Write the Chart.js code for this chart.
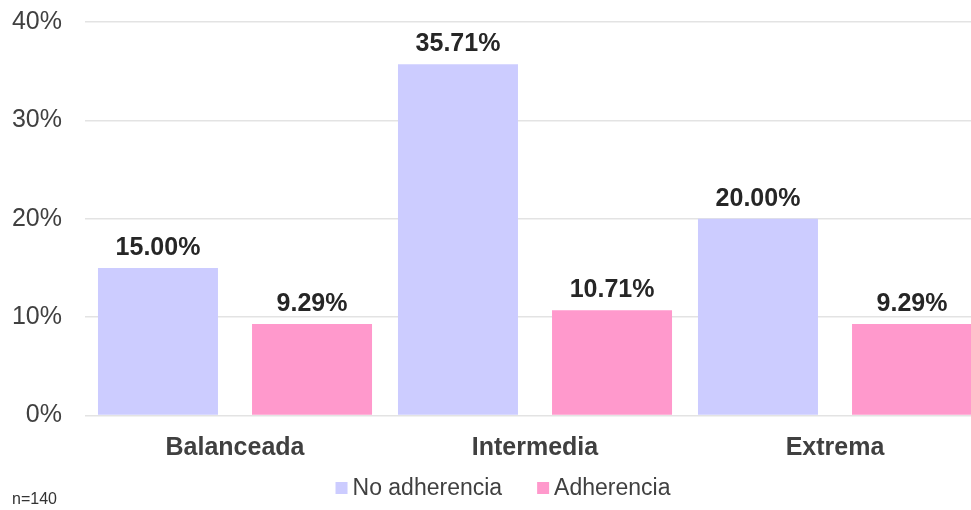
<!DOCTYPE html>
<html>
<head>
<meta charset="utf-8">
<script src="https://cdn.jsdelivr.net/npm/chart.js@4/dist/chart.umd.min.js"></script>
<style>
  html, body { margin: 0; padding: 0; background: #fff; overflow: hidden; }
  #wrap { width: 1000px; height: 510px; }
</style>
</head>
<body>
<div id="wrap"><canvas id="chart" width="1000" height="510"></canvas></div>
<script>
// chart data
const categories = ['Balanceada', 'Intermedia', 'Extrema'];
const seriesNames = ['No adherencia', 'Adherencia'];
const noAdherencia = [15.00, 35.71, 20.00];
const adherencia = [9.29, 10.71, 9.29];
const yTicks = [0, 10, 20, 30, 40];
const sampleNote = 'n=140';

const colors = ['#CCCCFF', '#FF99CC'];
const FONT = '"Liberation Sans", Arial, sans-serif';

// value labels above each bar
const valueLabels = {
    id: 'valueLabels',
    afterDatasetsDraw(chart) {
        const ctx = chart.ctx;
        ctx.save();
        ctx.font = 'bold 25px ' + FONT;
        ctx.fillStyle = '#262626';
        ctx.textAlign = 'center';
        ctx.textBaseline = 'middle';
        chart.data.datasets.forEach((ds, i) => {
            chart.getDatasetMeta(i).data.forEach((bar, j) => {
                ctx.fillText(ds.data[j].toFixed(2) + '%', bar.x, bar.y - 20);
            });
        });
        ctx.restore();
    }
};

// legend + note at the bottom
const bottomLegend = {
    id: 'bottomLegend',
    afterDraw(chart) {
        const ctx = chart.ctx;
        ctx.save();
        ctx.font = '23px ' + FONT;
        ctx.textBaseline = 'middle';
        const box = 12, gap = 5, itemGap = 35;
        const widths = seriesNames.map(n => ctx.measureText(n).width);
        let total = 0;
        widths.forEach((w, i) => { total += box + gap + w + (i ? itemGap : 0); });
        let x = 503 - total / 2;
        const y = 488;
        seriesNames.forEach((name, i) => {
            ctx.fillStyle = colors[i];
            ctx.fillRect(x, y - box / 2, box, box);
            ctx.fillStyle = '#404040';
            ctx.textAlign = 'left';
            ctx.fillText(name, x + box + gap, y + 1);
            x += box + gap + widths[i] + itemGap;
        });
        ctx.font = '16px ' + FONT;
        ctx.fillStyle = '#333333';
        ctx.fillText(sampleNote, 12, 500);
        ctx.restore();
    }
};

const ctx = document.getElementById('chart').getContext('2d');
new Chart(ctx, {
    type: 'bar',
    data: {
        labels: categories,
        datasets: [
            { label: seriesNames[0], data: noAdherencia, backgroundColor: colors[0] },
            { label: seriesNames[1], data: adherencia, backgroundColor: colors[1] }
        ]
    },
    options: {
        responsive: false,
        animation: false,
        devicePixelRatio: 1,
        categoryPercentage: 1.027,
        barPercentage: 0.779,
        layout: { padding: { top: 22, right: 15, bottom: 28.5, left: 0 } },
        scales: {
            x: {
                grid: { display: false, drawTicks: false },
                border: { display: false },
                ticks: {
                    padding: 18,
                    color: '#404040',
                    font: { family: FONT, size: 25, weight: 'bold' }
                }
            },
            y: {
                min: yTicks[0],
                max: yTicks[yTicks.length - 1],
                afterFit: function(scale) {
                    scale.width = 85;
                    scale.paddingTop = 0;
                    scale.paddingBottom = 0;
                },
                afterBuildTicks: function(scale) {
                    scale.ticks = yTicks.map(v => ({ value: v }));
                },
                grid: { color: '#e3e3e3', lineWidth: 1.5, drawTicks: false },
                border: { display: false },
                ticks: {
                    padding: 23,
                    color: '#404040',
                    font: { family: FONT, size: 25 },
                    callback: function(value) { return value + '%'; }
                }
            }
        },
        plugins: {
            legend: { display: false },
            tooltip: { enabled: false }
        }
    },
    plugins: [valueLabels, bottomLegend]
});
</script>
</body>
</html>
